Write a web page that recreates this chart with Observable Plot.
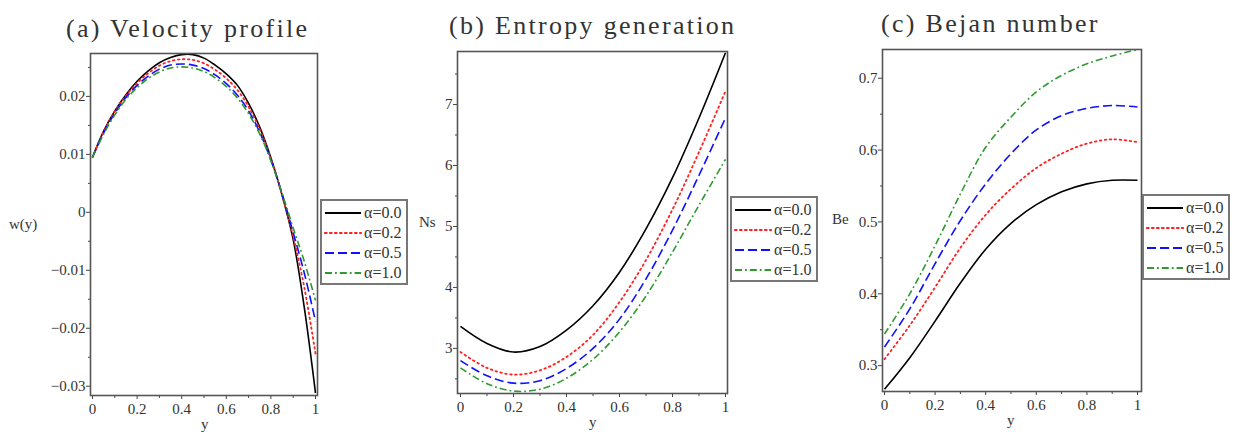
<!DOCTYPE html>
<html><head><meta charset="utf-8">
<script src="https://cdn.jsdelivr.net/npm/d3@7"></script>
<script src="https://cdn.jsdelivr.net/npm/@observablehq/plot@0.6"></script>
<style>
body{margin:0;background:#fff;}
#wrap{position:relative;width:1235px;height:432px;overflow:hidden;font-family:"Liberation Serif","DejaVu Serif",serif;background:#fff;}
.title{position:absolute;font-size:26px;letter-spacing:2.3px;color:#333;white-space:nowrap;line-height:1;}
.lab{position:absolute;font-size:15px;color:#333;line-height:1;white-space:nowrap;}
.legend{position:absolute;border:2px solid #777;background:#fff;box-sizing:border-box;}
.legend .row{position:absolute;left:2px;height:16px;display:flex;align-items:center;}
.legend .row span{font-size:16px;color:#333;margin-left:2px;}
.panel{position:absolute;top:0;}
</style></head><body><div id="wrap"></div>
<script>
// ---------- data ----------
const seriesLabels = ["α=0.0", "α=0.2", "α=0.5", "α=1.0"];

// (a) Velocity profile w(y)
const gridA = [0,0.05,0.1,0.15,0.2,0.25,0.3,0.35,0.4,0.45,0.5,0.55,0.6,0.65,0.7,0.75,0.8,0.85,0.9,0.95,1.0];
const wA00 = [0.0095,0.0140,0.0175,0.0203,0.0226,0.0244,0.0258,0.0267,0.0272,0.0272,0.0266,0.0254,0.0239,0.0219,0.0188,0.0147,0.0094,0.0030,-0.0047,-0.0165,-0.0312];
const wA02 = [0.0095,0.0139,0.0174,0.0201,0.0223,0.0240,0.0253,0.0261,0.0264,0.0263,0.0257,0.0246,0.0231,0.0211,0.0182,0.0143,0.0092,0.0030,-0.0042,-0.0130,-0.0244];
const wA05 = [0.0095,0.0137,0.0171,0.0198,0.0219,0.0235,0.0247,0.0254,0.0256,0.0254,0.0248,0.0237,0.0222,0.0202,0.0175,0.0138,0.0090,0.0032,-0.0035,-0.0105,-0.0188];
const wA10 = [0.0095,0.0135,0.0168,0.0195,0.0215,0.0231,0.0242,0.0249,0.0251,0.0249,0.0243,0.0232,0.0217,0.0197,0.0170,0.0135,0.0089,0.0033,-0.0027,-0.0085,-0.0152];

// (b) Entropy generation Ns, (c) Bejan number Be
const gridBC = [0,0.1,0.2,0.3,0.4,0.5,0.6,0.7,0.8,0.9,1.0];
const nsB00 = [3.36,3.08,2.94,3.03,3.30,3.70,4.25,4.96,5.80,6.78,7.85];
const nsB02 = [2.94,2.68,2.57,2.64,2.86,3.22,3.76,4.45,5.28,6.22,7.22];
const nsB05 = [2.80,2.55,2.43,2.47,2.67,3.00,3.48,4.14,4.94,5.84,6.78];
const nsB10 = [2.68,2.42,2.30,2.33,2.51,2.82,3.27,3.86,4.58,5.35,6.10];

const beC00 = [0.267,0.311,0.362,0.415,0.462,0.498,0.524,0.542,0.553,0.558,0.558];
const beC02 = [0.309,0.356,0.409,0.464,0.510,0.546,0.575,0.595,0.609,0.615,0.611];
const beC05 = [0.326,0.379,0.442,0.502,0.553,0.595,0.628,0.648,0.658,0.662,0.660];
const beC10 = [0.344,0.400,0.467,0.539,0.604,0.646,0.681,0.704,0.720,0.731,0.740];

// ticks
const xMajor = [0,0.2,0.4,0.6,0.8,1];
const xMajorLabels = ["0","0.2","0.4","0.6","0.8","1"];
const xMinor = [0.1,0.3,0.5,0.7,0.9];
const yMajorA = [-0.03,-0.02,-0.01,0,0.01,0.02];
const yMajorALabels = ["−0.03","−0.02","−0.01","0","0.01","0.02"];
const yMinorA = [-0.025,-0.015,-0.005,0.005,0.015,0.025];
const yMajorB = [3,4,5,6,7];
const yMajorBLabels = ["3","4","5","6","7"];
const yMinorB = [2.5,3.5,4.5,5.5,6.5,7.5];
const yMajorC = [0.3,0.4,0.5,0.6,0.7];
const yMajorCLabels = ["0.3","0.4","0.5","0.6","0.7"];
const yMinorC = [0.35,0.45,0.55,0.65];

// ---------- styles ----------
const colors = ["#000000", "#ff2020", "#1010ff", "#2f9a2f"];
const dashes = [null, "1.6,3.4", "9,4", "7,3,1.8,3"];
const widths = [1.6, 1.8, 1.6, 1.6];

const wrap = document.getElementById("wrap");

function rowsOf(grid, vals) { return grid.map((g, i) => ({x: g, v: vals[i]})); }

function panel(cfg) {
  const marks = [];
  cfg.series.forEach((vals, k) => {
    marks.push(Plot.line(rowsOf(cfg.grid, vals), {
      x: "x", y: "v", stroke: colors[k], strokeWidth: widths[k],
      strokeDasharray: dashes[k], curve: "catmull-rom",
      strokeLinecap: k === 1 ? "round" : "butt"
    }));
  });
  marks.push(Plot.axisX({ticks: xMinor, tickSize: 3, tickFormat: () => "", label: null, stroke: "#444"}));
  marks.push(Plot.axisX({ticks: xMajor, tickSize: 4, tickPadding: 4, label: null, stroke: "#444",
    tickFormat: d => xMajorLabels[xMajor.indexOf(d)], fontSize: 15}));
  marks.push(Plot.axisY({ticks: cfg.yMinor, tickSize: 2, tickFormat: () => "", label: null, stroke: "#444"}));
  marks.push(Plot.axisY({ticks: cfg.yMajor, tickSize: 4, tickPadding: 1, label: null, stroke: "#444",
    tickFormat: d => cfg.yLabels[cfg.yMajor.indexOf(d)], fontSize: 15}));
  marks.push(Plot.frame({stroke: "#555", strokeWidth: 1.6}));
  const svg = Plot.plot({
    width: cfg.w, height: 432,
    marginLeft: cfg.ml, marginRight: cfg.mr, marginTop: cfg.mt, marginBottom: cfg.mb,
    x: {domain: [0, 1], insetLeft: cfg.il, insetRight: cfg.ir},
    y: {domain: cfg.ydom},
    style: {fontFamily: "'Liberation Serif', serif", fontSize: "15px", color: "#333", background: "transparent", overflow: "visible"},
    marks
  });
  svg.classList.add("panel");
  svg.style.left = cfg.left + "px";
  wrap.appendChild(svg);

  const t = document.createElement("div");
  t.className = "title"; t.textContent = cfg.title;
  t.style.left = cfg.tx + "px"; t.style.top = cfg.ty + "px";
  wrap.appendChild(t);

  const yl = document.createElement("div");
  yl.className = "lab"; yl.textContent = cfg.ylab;
  yl.style.left = cfg.ylx + "px"; yl.style.top = cfg.yly + "px";
  wrap.appendChild(yl);

  const xl = document.createElement("div");
  xl.className = "lab"; xl.textContent = "y";
  xl.style.left = cfg.xlx + "px"; xl.style.top = cfg.xly + "px";
  wrap.appendChild(xl);

  const lg = document.createElement("div");
  lg.className = "legend";
  lg.style.left = cfg.lgx + "px"; lg.style.top = cfg.lgy + "px";
  lg.style.width = "88px"; lg.style.height = "86px";
  seriesLabels.forEach((s, k) => {
    const r = document.createElement("div");
    r.className = "row"; r.style.top = (4 + k * 20) + "px";
    r.innerHTML = `<svg width="38" height="10"><line x1="1" y1="5" x2="37" y2="5" stroke="${colors[k]}" stroke-width="${widths[k] + 0.4}" ${dashes[k] ? `stroke-dasharray="${dashes[k]}"` : ""} stroke-linecap="${k === 1 ? "round" : "butt"}"/></svg><span>${s}</span>`;
    lg.appendChild(r);
  });
  wrap.appendChild(lg);
}

panel({left: 0, w: 420, ml: 90, mr: 103, mt: 53, mb: 37, il: 2, ir: 2,
  grid: gridA, series: [wA00, wA02, wA05, wA10], ydom: [-0.0316, 0.0274],
  yMajor: yMajorA, yLabels: yMajorALabels, yMinor: yMinorA,
  title: "(a) Velocity profile", tx: 66, ty: 16, ylab: "w(y)", ylx: 9, yly: 217,
  xlx: 201, xly: 417, lgx: 320, lgy: 199});

panel({left: 420, w: 410, ml: 37, mr: 103, mt: 51, mb: 39, il: 3, ir: 2,
  grid: gridBC, series: [nsB00, nsB02, nsB05, nsB10], ydom: [2.26, 7.87],
  yMajor: yMajorB, yLabels: yMajorBLabels, yMinor: yMinorB,
  title: "(b) Entropy generation", tx: 449, ty: 13, ylab: "Ns", ylx: 419, yly: 215,
  xlx: 589, xly: 415, lgx: 730, lgy: 196});

panel({left: 830, w: 405, ml: 52, mr: 94, mt: 49, mb: 41, il: 2, ir: 4,
  grid: gridBC, series: [beC00, beC02, beC05, beC10], ydom: [0.264, 0.740],
  yMajor: yMajorC, yLabels: yMajorCLabels, yMinor: yMinorC,
  title: "(c) Bejan number", tx: 881, ty: 11, ylab: "Be", ylx: 832, yly: 212,
  xlx: 1007, xly: 413, lgx: 1142, lgy: 194});
</script>
</body></html>
